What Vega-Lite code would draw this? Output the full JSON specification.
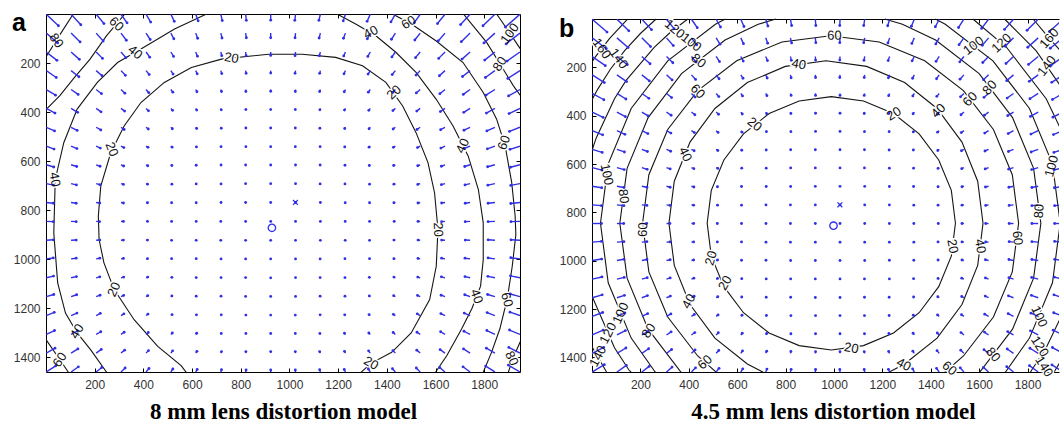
{
"$schema":"https://vega.github.io/schema/vega-lite/v6.json",
"background":"white",
"padding":{"left":12,"top":10,"right":0,"bottom":0},
"spacing":37,
"config":{"view":{"stroke":null},"axis":{"grid":false,"domainColor":"#000","tickColor":"#000","labelFont":"Liberation Sans","labelFontSize":12,"labelColor":"#333","titleFont":"Liberation Serif","titleFontSize":23,"titleFontWeight":"bold","titleColor":"#000"}},
"datasets":{
"arrA":[
{"x":1,"y":1,"x2":51,"y2":48},{"x":103,"y":1,"x2":143,"y2":44},{"x":206,"y":1,"x2":238,"y2":39},{"x":308,"y":1,"x2":333,"y2":36},{"x":411,"y":1,"x2":430,"y2":33},{"x":513,"y":1,"x2":527,"y2":30},{"x":615,"y":1,"x2":625,"y2":28},{"x":718,"y":1,"x2":724,"y2":27},{"x":820,"y":1,"x2":823,"y2":26},{"x":923,"y":1,"x2":923,"y2":25},{"x":1025,"y":1,"x2":1022,"y2":26},{"x":1127,"y":1,"x2":1121,"y2":26},{"x":1230,"y":1,"x2":1221,"y2":28},{"x":1332,"y":1,"x2":1319,"y2":30},{"x":1435,"y":1,"x2":1417,"y2":32},{"x":1537,"y":1,"x2":1513,"y2":35},{"x":1639,"y":1,"x2":1608,"y2":39},{"x":1742,"y":1,"x2":1703,"y2":43},{"x":1844,"y":1,"x2":1795,"y2":48},{"x":1947,"y":1,"x2":1887,"y2":53},
{"x":1,"y":78,"x2":48,"y2":118},{"x":103,"y":78,"x2":140,"y2":114},{"x":206,"y":78,"x2":235,"y2":110},{"x":308,"y":78,"x2":330,"y2":107},{"x":411,"y":78,"x2":428,"y2":104},{"x":513,"y":78,"x2":525,"y2":101},{"x":615,"y":78,"x2":623,"y2":99},{"x":718,"y":78,"x2":723,"y2":98},{"x":820,"y":78,"x2":823,"y2":97},{"x":923,"y":78,"x2":923,"y2":97},{"x":1025,"y":78,"x2":1023,"y2":97},{"x":1127,"y":78,"x2":1122,"y2":98},{"x":1230,"y":78,"x2":1222,"y2":99},{"x":1332,"y":78,"x2":1320,"y2":101},{"x":1435,"y":78,"x2":1419,"y2":103},{"x":1537,"y":78,"x2":1515,"y2":106},{"x":1639,"y":78,"x2":1611,"y2":110},{"x":1742,"y":78,"x2":1706,"y2":113},{"x":1844,"y":78,"x2":1799,"y2":118},{"x":1947,"y":78,"x2":1890,"y2":122},
{"x":1,"y":155,"x2":45,"y2":189},{"x":103,"y":155,"x2":137,"y2":185},{"x":206,"y":155,"x2":232,"y2":181},{"x":308,"y":155,"x2":328,"y2":178},{"x":411,"y":155,"x2":426,"y2":176},{"x":513,"y":155,"x2":524,"y2":173},{"x":615,"y":155,"x2":622,"y2":172},{"x":718,"y":155,"x2":722,"y2":170},{"x":820,"y":155,"x2":822,"y2":170},{"x":923,"y":155,"x2":923,"y2":169},{"x":1025,"y":155,"x2":1023,"y2":170},{"x":1127,"y":155,"x2":1123,"y2":170},{"x":1230,"y":155,"x2":1223,"y2":171},{"x":1332,"y":155,"x2":1322,"y2":173},{"x":1435,"y":155,"x2":1421,"y2":175},{"x":1537,"y":155,"x2":1518,"y2":178},{"x":1639,"y":155,"x2":1613,"y2":181},{"x":1742,"y":155,"x2":1709,"y2":184},{"x":1844,"y":155,"x2":1802,"y2":188},{"x":1947,"y":155,"x2":1894,"y2":192},
{"x":1,"y":231,"x2":42,"y2":259},{"x":103,"y":231,"x2":135,"y2":256},{"x":206,"y":231,"x2":230,"y2":252},{"x":308,"y":231,"x2":326,"y2":250},{"x":411,"y":231,"x2":424,"y2":247},{"x":513,"y":231,"x2":522,"y2":245},{"x":615,"y":231,"x2":621,"y2":244},{"x":718,"y":231,"x2":722,"y2":243},{"x":820,"y":231,"x2":822,"y2":242},{"x":923,"y":231,"x2":923,"y2":241},{"x":1025,"y":231,"x2":1023,"y2":242},{"x":1127,"y":231,"x2":1124,"y2":242},{"x":1230,"y":231,"x2":1224,"y2":244},{"x":1332,"y":231,"x2":1323,"y2":245},{"x":1435,"y":231,"x2":1422,"y2":247},{"x":1537,"y":231,"x2":1520,"y2":249},{"x":1639,"y":231,"x2":1616,"y2":252},{"x":1742,"y":231,"x2":1711,"y2":255},{"x":1844,"y":231,"x2":1805,"y2":259},{"x":1947,"y":231,"x2":1897,"y2":263},
{"x":1,"y":308,"x2":39,"y2":331},{"x":103,"y":308,"x2":132,"y2":328},{"x":206,"y":308,"x2":228,"y2":325},{"x":308,"y":308,"x2":324,"y2":323},{"x":411,"y":308,"x2":422,"y2":321},{"x":513,"y":308,"x2":521,"y2":319},{"x":615,"y":308,"x2":620,"y2":317},{"x":718,"y":308,"x2":721,"y2":316},{"x":820,"y":308,"x2":821,"y2":316},{"x":923,"y":308,"x2":923,"y2":315},{"x":1025,"y":308,"x2":1024,"y2":316},{"x":1127,"y":308,"x2":1124,"y2":316},{"x":1230,"y":308,"x2":1225,"y2":317},{"x":1332,"y":308,"x2":1324,"y2":319},{"x":1435,"y":308,"x2":1424,"y2":320},{"x":1537,"y":308,"x2":1521,"y2":322},{"x":1639,"y":308,"x2":1618,"y2":325},{"x":1742,"y":308,"x2":1714,"y2":328},{"x":1844,"y":308,"x2":1807,"y2":331},{"x":1947,"y":308,"x2":1900,"y2":334},
{"x":1,"y":385,"x2":37,"y2":404},{"x":103,"y":385,"x2":130,"y2":401},{"x":206,"y":385,"x2":226,"y2":399},{"x":308,"y":385,"x2":323,"y2":396},{"x":411,"y":385,"x2":421,"y2":395},{"x":513,"y":385,"x2":520,"y2":393},{"x":615,"y":385,"x2":619,"y2":392},{"x":718,"y":385,"x2":720,"y2":391},{"x":820,"y":385,"x2":821,"y2":390},{"x":923,"y":385,"x2":923,"y2":390},{"x":1025,"y":385,"x2":1024,"y2":390},{"x":1127,"y":385,"x2":1125,"y2":391},{"x":1230,"y":385,"x2":1226,"y2":392},{"x":1332,"y":385,"x2":1326,"y2":393},{"x":1435,"y":385,"x2":1425,"y2":394},{"x":1537,"y":385,"x2":1523,"y2":396},{"x":1639,"y":385,"x2":1620,"y2":398},{"x":1742,"y":385,"x2":1716,"y2":401},{"x":1844,"y":385,"x2":1809,"y2":404},{"x":1947,"y":385,"x2":1902,"y2":406},
{"x":1,"y":462,"x2":35,"y2":477},{"x":103,"y":462,"x2":128,"y2":475},{"x":206,"y":462,"x2":225,"y2":473},{"x":308,"y":462,"x2":321,"y2":471},{"x":411,"y":462,"x2":420,"y2":469},{"x":513,"y":462,"x2":519,"y2":468},{"x":615,"y":462,"x2":619,"y2":467},{"x":718,"y":462,"x2":720,"y2":466},{"x":820,"y":462,"x2":821,"y2":465},{"x":923,"y":462,"x2":923,"y2":465},{"x":1025,"y":462,"x2":1024,"y2":465},{"x":1127,"y":462,"x2":1125,"y2":466},{"x":1230,"y":462,"x2":1227,"y2":467},{"x":1332,"y":462,"x2":1327,"y2":468},{"x":1435,"y":462,"x2":1426,"y2":469},{"x":1537,"y":462,"x2":1524,"y2":471},{"x":1639,"y":462,"x2":1621,"y2":472},{"x":1742,"y":462,"x2":1717,"y2":474},{"x":1844,"y":462,"x2":1811,"y2":477},{"x":1947,"y":462,"x2":1904,"y2":479},
{"x":1,"y":539,"x2":33,"y2":551},{"x":103,"y":539,"x2":127,"y2":549},{"x":206,"y":539,"x2":223,"y2":547},{"x":308,"y":539,"x2":320,"y2":545},{"x":411,"y":539,"x2":419,"y2":544},{"x":513,"y":539,"x2":518,"y2":543},{"x":615,"y":539,"x2":618,"y2":542},{"x":718,"y":539,"x2":719,"y2":541},{"x":820,"y":539,"x2":821,"y2":541},{"x":923,"y":539,"x2":923,"y2":541},{"x":1025,"y":539,"x2":1024,"y2":541},{"x":1127,"y":539,"x2":1126,"y2":541},{"x":1230,"y":539,"x2":1227,"y2":542},{"x":1332,"y":539,"x2":1327,"y2":543},{"x":1435,"y":539,"x2":1427,"y2":544},{"x":1537,"y":539,"x2":1526,"y2":545},{"x":1639,"y":539,"x2":1622,"y2":547},{"x":1742,"y":539,"x2":1719,"y2":548},{"x":1844,"y":539,"x2":1813,"y2":550},{"x":1947,"y":539,"x2":1906,"y2":552},
{"x":1,"y":615,"x2":32,"y2":624},{"x":103,"y":615,"x2":126,"y2":622},{"x":206,"y":615,"x2":222,"y2":621},{"x":308,"y":615,"x2":319,"y2":620},{"x":411,"y":615,"x2":418,"y2":619},{"x":513,"y":615,"x2":517,"y2":618},{"x":615,"y":615,"x2":617,"y2":617},{"x":718,"y":615,"x2":719,"y2":616},{"x":820,"y":615,"x2":820,"y2":616},{"x":923,"y":615,"x2":923,"y2":616},{"x":1025,"y":615,"x2":1025,"y2":616},{"x":1127,"y":615,"x2":1126,"y2":616},{"x":1230,"y":615,"x2":1228,"y2":617},{"x":1332,"y":615,"x2":1328,"y2":618},{"x":1435,"y":615,"x2":1428,"y2":618},{"x":1537,"y":615,"x2":1527,"y2":619},{"x":1639,"y":615,"x2":1624,"y2":621},{"x":1742,"y":615,"x2":1720,"y2":622},{"x":1844,"y":615,"x2":1814,"y2":623},{"x":1947,"y":615,"x2":1908,"y2":625},
{"x":1,"y":692,"x2":31,"y2":698},{"x":103,"y":692,"x2":125,"y2":697},{"x":206,"y":692,"x2":221,"y2":696},{"x":308,"y":692,"x2":318,"y2":695},{"x":411,"y":692,"x2":417,"y2":694},{"x":513,"y":692,"x2":517,"y2":694},{"x":615,"y":692,"x2":617,"y2":693},{"x":718,"y":692,"x2":719,"y2":693},{"x":820,"y":692,"x2":820,"y2":692},{"x":923,"y":692,"x2":923,"y2":692},{"x":1025,"y":692,"x2":1025,"y2":692},{"x":1127,"y":692,"x2":1126,"y2":693},{"x":1230,"y":692,"x2":1228,"y2":693},{"x":1332,"y":692,"x2":1329,"y2":694},{"x":1435,"y":692,"x2":1429,"y2":694},{"x":1537,"y":692,"x2":1527,"y2":695},{"x":1639,"y":692,"x2":1624,"y2":696},{"x":1742,"y":692,"x2":1721,"y2":697},{"x":1844,"y":692,"x2":1815,"y2":698},{"x":1947,"y":692,"x2":1909,"y2":699},
{"x":1,"y":769,"x2":30,"y2":772},{"x":103,"y":769,"x2":124,"y2":772},{"x":206,"y":769,"x2":221,"y2":771},{"x":308,"y":769,"x2":318,"y2":771},{"x":411,"y":769,"x2":417,"y2":770},{"x":513,"y":769,"x2":516,"y2":770},{"x":615,"y":769,"x2":617,"y2":770},{"x":718,"y":769,"x2":719,"y2":769},{"x":820,"y":769,"x2":820,"y2":769},{"x":923,"y":769,"x2":923,"y2":769},{"x":1025,"y":769,"x2":1025,"y2":769},{"x":1127,"y":769,"x2":1127,"y2":769},{"x":1230,"y":769,"x2":1229,"y2":770},{"x":1332,"y":769,"x2":1329,"y2":770},{"x":1435,"y":769,"x2":1429,"y2":770},{"x":1537,"y":769,"x2":1528,"y2":771},{"x":1639,"y":769,"x2":1625,"y2":771},{"x":1742,"y":769,"x2":1722,"y2":772},{"x":1844,"y":769,"x2":1816,"y2":772},{"x":1947,"y":769,"x2":1909,"y2":773},
{"x":1,"y":846,"x2":30,"y2":847},{"x":103,"y":846,"x2":124,"y2":847},{"x":206,"y":846,"x2":220,"y2":847},{"x":308,"y":846,"x2":318,"y2":846},{"x":411,"y":846,"x2":417,"y2":846},{"x":513,"y":846,"x2":516,"y2":846},{"x":615,"y":846,"x2":617,"y2":846},{"x":718,"y":846,"x2":718,"y2":846},{"x":820,"y":846,"x2":820,"y2":846},{"x":923,"y":846,"x2":923,"y2":846},{"x":1025,"y":846,"x2":1025,"y2":846},{"x":1127,"y":846,"x2":1127,"y2":846},{"x":1230,"y":846,"x2":1229,"y2":846},{"x":1332,"y":846,"x2":1329,"y2":846},{"x":1435,"y":846,"x2":1430,"y2":846},{"x":1537,"y":846,"x2":1528,"y2":846},{"x":1639,"y":846,"x2":1625,"y2":847},{"x":1742,"y":846,"x2":1722,"y2":847},{"x":1844,"y":846,"x2":1816,"y2":847},{"x":1947,"y":846,"x2":1910,"y2":847},
{"x":1,"y":923,"x2":30,"y2":921},{"x":103,"y":923,"x2":124,"y2":922},{"x":206,"y":923,"x2":221,"y2":922},{"x":308,"y":923,"x2":318,"y2":922},{"x":411,"y":923,"x2":417,"y2":922},{"x":513,"y":923,"x2":516,"y2":923},{"x":615,"y":923,"x2":617,"y2":923},{"x":718,"y":923,"x2":718,"y2":923},{"x":820,"y":923,"x2":820,"y2":923},{"x":923,"y":923,"x2":923,"y2":923},{"x":1025,"y":923,"x2":1025,"y2":923},{"x":1127,"y":923,"x2":1127,"y2":923},{"x":1230,"y":923,"x2":1229,"y2":923},{"x":1332,"y":923,"x2":1329,"y2":923},{"x":1435,"y":923,"x2":1429,"y2":922},{"x":1537,"y":923,"x2":1528,"y2":922},{"x":1639,"y":923,"x2":1625,"y2":922},{"x":1742,"y":923,"x2":1722,"y2":922},{"x":1844,"y":923,"x2":1816,"y2":921},{"x":1947,"y":923,"x2":1910,"y2":921},
{"x":1,"y":999,"x2":30,"y2":995},{"x":103,"y":999,"x2":124,"y2":996},{"x":206,"y":999,"x2":221,"y2":996},{"x":308,"y":999,"x2":318,"y2":997},{"x":411,"y":999,"x2":417,"y2":998},{"x":513,"y":999,"x2":516,"y2":998},{"x":615,"y":999,"x2":617,"y2":998},{"x":718,"y":999,"x2":719,"y2":999},{"x":820,"y":999,"x2":820,"y2":999},{"x":923,"y":999,"x2":923,"y2":999},{"x":1025,"y":999,"x2":1025,"y2":999},{"x":1127,"y":999,"x2":1126,"y2":999},{"x":1230,"y":999,"x2":1228,"y2":998},{"x":1332,"y":999,"x2":1329,"y2":998},{"x":1435,"y":999,"x2":1429,"y2":998},{"x":1537,"y":999,"x2":1528,"y2":997},{"x":1639,"y":999,"x2":1625,"y2":996},{"x":1742,"y":999,"x2":1721,"y2":996},{"x":1844,"y":999,"x2":1816,"y2":995},{"x":1947,"y":999,"x2":1909,"y2":994},
{"x":1,"y":1076,"x2":31,"y2":1069},{"x":103,"y":1076,"x2":125,"y2":1071},{"x":206,"y":1076,"x2":221,"y2":1072},{"x":308,"y":1076,"x2":319,"y2":1073},{"x":411,"y":1076,"x2":418,"y2":1073},{"x":513,"y":1076,"x2":517,"y2":1074},{"x":615,"y":1076,"x2":617,"y2":1075},{"x":718,"y":1076,"x2":719,"y2":1075},{"x":820,"y":1076,"x2":820,"y2":1075},{"x":923,"y":1076,"x2":923,"y2":1076},{"x":1025,"y":1076,"x2":1025,"y2":1075},{"x":1127,"y":1076,"x2":1126,"y2":1075},{"x":1230,"y":1076,"x2":1228,"y2":1075},{"x":1332,"y":1076,"x2":1328,"y2":1074},{"x":1435,"y":1076,"x2":1429,"y2":1073},{"x":1537,"y":1076,"x2":1527,"y2":1073},{"x":1639,"y":1076,"x2":1624,"y2":1072},{"x":1742,"y":1076,"x2":1721,"y2":1071},{"x":1844,"y":1076,"x2":1815,"y2":1070},{"x":1947,"y":1076,"x2":1908,"y2":1068},
{"x":1,"y":1153,"x2":32,"y2":1144},{"x":103,"y":1153,"x2":126,"y2":1145},{"x":206,"y":1153,"x2":222,"y2":1147},{"x":308,"y":1153,"x2":319,"y2":1148},{"x":411,"y":1153,"x2":418,"y2":1149},{"x":513,"y":1153,"x2":517,"y2":1150},{"x":615,"y":1153,"x2":617,"y2":1151},{"x":718,"y":1153,"x2":719,"y2":1151},{"x":820,"y":1153,"x2":820,"y2":1152},{"x":923,"y":1153,"x2":923,"y2":1152},{"x":1025,"y":1153,"x2":1025,"y2":1152},{"x":1127,"y":1153,"x2":1126,"y2":1151},{"x":1230,"y":1153,"x2":1228,"y2":1151},{"x":1332,"y":1153,"x2":1328,"y2":1150},{"x":1435,"y":1153,"x2":1428,"y2":1149},{"x":1537,"y":1153,"x2":1526,"y2":1148},{"x":1639,"y":1153,"x2":1623,"y2":1147},{"x":1742,"y":1153,"x2":1720,"y2":1145},{"x":1844,"y":1153,"x2":1814,"y2":1144},{"x":1947,"y":1153,"x2":1907,"y2":1142},
{"x":1,"y":1230,"x2":34,"y2":1217},{"x":103,"y":1230,"x2":127,"y2":1220},{"x":206,"y":1230,"x2":223,"y2":1221},{"x":308,"y":1230,"x2":320,"y2":1223},{"x":411,"y":1230,"x2":419,"y2":1224},{"x":513,"y":1230,"x2":518,"y2":1226},{"x":615,"y":1230,"x2":618,"y2":1227},{"x":718,"y":1230,"x2":720,"y2":1227},{"x":820,"y":1230,"x2":821,"y2":1228},{"x":923,"y":1230,"x2":923,"y2":1228},{"x":1025,"y":1230,"x2":1024,"y2":1228},{"x":1127,"y":1230,"x2":1126,"y2":1227},{"x":1230,"y":1230,"x2":1227,"y2":1227},{"x":1332,"y":1230,"x2":1327,"y2":1226},{"x":1435,"y":1230,"x2":1427,"y2":1225},{"x":1537,"y":1230,"x2":1525,"y2":1223},{"x":1639,"y":1230,"x2":1622,"y2":1222},{"x":1742,"y":1230,"x2":1718,"y2":1220},{"x":1844,"y":1230,"x2":1812,"y2":1218},{"x":1947,"y":1230,"x2":1906,"y2":1216},
{"x":1,"y":1307,"x2":35,"y2":1291},{"x":103,"y":1307,"x2":129,"y2":1293},{"x":206,"y":1307,"x2":225,"y2":1296},{"x":308,"y":1307,"x2":321,"y2":1298},{"x":411,"y":1307,"x2":420,"y2":1299},{"x":513,"y":1307,"x2":519,"y2":1301},{"x":615,"y":1307,"x2":619,"y2":1302},{"x":718,"y":1307,"x2":720,"y2":1303},{"x":820,"y":1307,"x2":821,"y2":1303},{"x":923,"y":1307,"x2":923,"y2":1303},{"x":1025,"y":1307,"x2":1024,"y2":1303},{"x":1127,"y":1307,"x2":1125,"y2":1303},{"x":1230,"y":1307,"x2":1226,"y2":1302},{"x":1332,"y":1307,"x2":1326,"y2":1301},{"x":1435,"y":1307,"x2":1426,"y2":1299},{"x":1537,"y":1307,"x2":1524,"y2":1298},{"x":1639,"y":1307,"x2":1621,"y2":1296},{"x":1742,"y":1307,"x2":1717,"y2":1294},{"x":1844,"y":1307,"x2":1811,"y2":1291},{"x":1947,"y":1307,"x2":1904,"y2":1289},
{"x":1,"y":1383,"x2":37,"y2":1363},{"x":103,"y":1383,"x2":131,"y2":1366},{"x":206,"y":1383,"x2":227,"y2":1368},{"x":308,"y":1383,"x2":323,"y2":1371},{"x":411,"y":1383,"x2":421,"y2":1373},{"x":513,"y":1383,"x2":520,"y2":1374},{"x":615,"y":1383,"x2":620,"y2":1376},{"x":718,"y":1383,"x2":721,"y2":1377},{"x":820,"y":1383,"x2":821,"y2":1377},{"x":923,"y":1383,"x2":923,"y2":1377},{"x":1025,"y":1383,"x2":1024,"y2":1377},{"x":1127,"y":1383,"x2":1124,"y2":1377},{"x":1230,"y":1383,"x2":1226,"y2":1376},{"x":1332,"y":1383,"x2":1325,"y2":1374},{"x":1435,"y":1383,"x2":1425,"y2":1373},{"x":1537,"y":1383,"x2":1523,"y2":1371},{"x":1639,"y":1383,"x2":1619,"y2":1369},{"x":1742,"y":1383,"x2":1715,"y2":1366},{"x":1844,"y":1383,"x2":1809,"y2":1363},{"x":1947,"y":1383,"x2":1901,"y2":1360},
{"x":1,"y":1460,"x2":40,"y2":1435},{"x":103,"y":1460,"x2":133,"y2":1439},{"x":206,"y":1460,"x2":229,"y2":1442},{"x":308,"y":1460,"x2":325,"y2":1444},{"x":411,"y":1460,"x2":423,"y2":1446},{"x":513,"y":1460,"x2":521,"y2":1448},{"x":615,"y":1460,"x2":621,"y2":1450},{"x":718,"y":1460,"x2":721,"y2":1451},{"x":820,"y":1460,"x2":822,"y2":1452},{"x":923,"y":1460,"x2":923,"y2":1452},{"x":1025,"y":1460,"x2":1024,"y2":1452},{"x":1127,"y":1460,"x2":1124,"y2":1451},{"x":1230,"y":1460,"x2":1225,"y2":1450},{"x":1332,"y":1460,"x2":1324,"y2":1448},{"x":1435,"y":1460,"x2":1423,"y2":1447},{"x":1537,"y":1460,"x2":1521,"y2":1444},{"x":1639,"y":1460,"x2":1617,"y2":1442},{"x":1742,"y":1460,"x2":1713,"y2":1439},{"x":1844,"y":1460,"x2":1806,"y2":1436},{"x":1947,"y":1460,"x2":1899,"y2":1432}
],
"arrB":[
{"x":1,"y":1,"x2":62,"y2":54},{"x":103,"y":1,"x2":152,"y2":49},{"x":206,"y":1,"x2":246,"y2":44},{"x":308,"y":1,"x2":339,"y2":40},{"x":411,"y":1,"x2":435,"y2":36},{"x":513,"y":1,"x2":531,"y2":33},{"x":615,"y":1,"x2":628,"y2":31},{"x":718,"y":1,"x2":727,"y2":29},{"x":820,"y":1,"x2":825,"y2":27},{"x":923,"y":1,"x2":925,"y2":27},{"x":1025,"y":1,"x2":1024,"y2":27},{"x":1127,"y":1,"x2":1123,"y2":27},{"x":1230,"y":1,"x2":1222,"y2":28},{"x":1332,"y":1,"x2":1320,"y2":30},{"x":1435,"y":1,"x2":1419,"y2":32},{"x":1537,"y":1,"x2":1515,"y2":35},{"x":1639,"y":1,"x2":1610,"y2":39},{"x":1742,"y":1,"x2":1705,"y2":43},{"x":1844,"y":1,"x2":1798,"y2":47},{"x":1947,"y":1,"x2":1890,"y2":52},
{"x":1,"y":78,"x2":59,"y2":123},{"x":103,"y":78,"x2":149,"y2":118},{"x":206,"y":78,"x2":242,"y2":114},{"x":308,"y":78,"x2":336,"y2":110},{"x":411,"y":78,"x2":433,"y2":107},{"x":513,"y":78,"x2":529,"y2":104},{"x":615,"y":78,"x2":626,"y2":102},{"x":718,"y":78,"x2":726,"y2":100},{"x":820,"y":78,"x2":825,"y2":99},{"x":923,"y":78,"x2":925,"y2":98},{"x":1025,"y":78,"x2":1024,"y2":98},{"x":1127,"y":78,"x2":1123,"y2":98},{"x":1230,"y":78,"x2":1223,"y2":99},{"x":1332,"y":78,"x2":1322,"y2":101},{"x":1435,"y":78,"x2":1421,"y2":103},{"x":1537,"y":78,"x2":1517,"y2":106},{"x":1639,"y":78,"x2":1613,"y2":109},{"x":1742,"y":78,"x2":1708,"y2":113},{"x":1844,"y":78,"x2":1801,"y2":117},{"x":1947,"y":78,"x2":1894,"y2":121},
{"x":1,"y":155,"x2":55,"y2":193},{"x":103,"y":155,"x2":146,"y2":189},{"x":206,"y":155,"x2":240,"y2":185},{"x":308,"y":155,"x2":334,"y2":181},{"x":411,"y":155,"x2":430,"y2":178},{"x":513,"y":155,"x2":527,"y2":176},{"x":615,"y":155,"x2":625,"y2":174},{"x":718,"y":155,"x2":725,"y2":172},{"x":820,"y":155,"x2":824,"y2":171},{"x":923,"y":155,"x2":924,"y2":170},{"x":1025,"y":155,"x2":1024,"y2":170},{"x":1127,"y":155,"x2":1124,"y2":171},{"x":1230,"y":155,"x2":1224,"y2":172},{"x":1332,"y":155,"x2":1323,"y2":173},{"x":1435,"y":155,"x2":1422,"y2":175},{"x":1537,"y":155,"x2":1520,"y2":177},{"x":1639,"y":155,"x2":1615,"y2":180},{"x":1742,"y":155,"x2":1711,"y2":184},{"x":1844,"y":155,"x2":1804,"y2":188},{"x":1947,"y":155,"x2":1897,"y2":192},
{"x":1,"y":231,"x2":51,"y2":263},{"x":103,"y":231,"x2":143,"y2":259},{"x":206,"y":231,"x2":237,"y2":256},{"x":308,"y":231,"x2":331,"y2":252},{"x":411,"y":231,"x2":428,"y2":250},{"x":513,"y":231,"x2":525,"y2":247},{"x":615,"y":231,"x2":624,"y2":245},{"x":718,"y":231,"x2":724,"y2":244},{"x":820,"y":231,"x2":823,"y2":243},{"x":923,"y":231,"x2":924,"y2":242},{"x":1025,"y":231,"x2":1024,"y2":242},{"x":1127,"y":231,"x2":1125,"y2":242},{"x":1230,"y":231,"x2":1225,"y2":243},{"x":1332,"y":231,"x2":1325,"y2":245},{"x":1435,"y":231,"x2":1424,"y2":247},{"x":1537,"y":231,"x2":1521,"y2":249},{"x":1639,"y":231,"x2":1618,"y2":251},{"x":1742,"y":231,"x2":1714,"y2":255},{"x":1844,"y":231,"x2":1807,"y2":258},{"x":1947,"y":231,"x2":1900,"y2":262},
{"x":1,"y":308,"x2":49,"y2":334},{"x":103,"y":308,"x2":140,"y2":331},{"x":206,"y":308,"x2":235,"y2":328},{"x":308,"y":308,"x2":329,"y2":325},{"x":411,"y":308,"x2":426,"y2":323},{"x":513,"y":308,"x2":524,"y2":321},{"x":615,"y":308,"x2":622,"y2":318},{"x":718,"y":308,"x2":723,"y2":317},{"x":820,"y":308,"x2":823,"y2":316},{"x":923,"y":308,"x2":924,"y2":316},{"x":1025,"y":308,"x2":1025,"y2":316},{"x":1127,"y":308,"x2":1125,"y2":316},{"x":1230,"y":308,"x2":1226,"y2":317},{"x":1332,"y":308,"x2":1326,"y2":318},{"x":1435,"y":308,"x2":1425,"y2":320},{"x":1537,"y":308,"x2":1523,"y2":322},{"x":1639,"y":308,"x2":1620,"y2":324},{"x":1742,"y":308,"x2":1716,"y2":327},{"x":1844,"y":308,"x2":1810,"y2":330},{"x":1947,"y":308,"x2":1903,"y2":333},
{"x":1,"y":385,"x2":46,"y2":407},{"x":103,"y":385,"x2":138,"y2":404},{"x":206,"y":385,"x2":232,"y2":401},{"x":308,"y":385,"x2":327,"y2":398},{"x":411,"y":385,"x2":425,"y2":396},{"x":513,"y":385,"x2":523,"y2":394},{"x":615,"y":385,"x2":621,"y2":393},{"x":718,"y":385,"x2":722,"y2":392},{"x":820,"y":385,"x2":822,"y2":391},{"x":923,"y":385,"x2":924,"y2":390},{"x":1025,"y":385,"x2":1025,"y2":390},{"x":1127,"y":385,"x2":1125,"y2":391},{"x":1230,"y":385,"x2":1227,"y2":391},{"x":1332,"y":385,"x2":1327,"y2":392},{"x":1435,"y":385,"x2":1427,"y2":394},{"x":1537,"y":385,"x2":1525,"y2":396},{"x":1639,"y":385,"x2":1622,"y2":398},{"x":1742,"y":385,"x2":1718,"y2":400},{"x":1844,"y":385,"x2":1812,"y2":403},{"x":1947,"y":385,"x2":1905,"y2":406},
{"x":1,"y":462,"x2":44,"y2":479},{"x":103,"y":462,"x2":136,"y2":477},{"x":206,"y":462,"x2":231,"y2":474},{"x":308,"y":462,"x2":326,"y2":472},{"x":411,"y":462,"x2":423,"y2":470},{"x":513,"y":462,"x2":521,"y2":469},{"x":615,"y":462,"x2":620,"y2":468},{"x":718,"y":462,"x2":721,"y2":466},{"x":820,"y":462,"x2":822,"y2":466},{"x":923,"y":462,"x2":924,"y2":465},{"x":1025,"y":462,"x2":1025,"y2":465},{"x":1127,"y":462,"x2":1126,"y2":466},{"x":1230,"y":462,"x2":1228,"y2":466},{"x":1332,"y":462,"x2":1328,"y2":467},{"x":1435,"y":462,"x2":1428,"y2":468},{"x":1537,"y":462,"x2":1526,"y2":470},{"x":1639,"y":462,"x2":1623,"y2":472},{"x":1742,"y":462,"x2":1720,"y2":474},{"x":1844,"y":462,"x2":1814,"y2":476},{"x":1947,"y":462,"x2":1907,"y2":478},
{"x":1,"y":539,"x2":42,"y2":552},{"x":103,"y":539,"x2":134,"y2":550},{"x":206,"y":539,"x2":229,"y2":548},{"x":308,"y":539,"x2":325,"y2":547},{"x":411,"y":539,"x2":422,"y2":545},{"x":513,"y":539,"x2":520,"y2":544},{"x":615,"y":539,"x2":619,"y2":543},{"x":718,"y":539,"x2":720,"y2":542},{"x":820,"y":539,"x2":821,"y2":541},{"x":923,"y":539,"x2":923,"y2":541},{"x":1025,"y":539,"x2":1025,"y2":541},{"x":1127,"y":539,"x2":1126,"y2":541},{"x":1230,"y":539,"x2":1228,"y2":542},{"x":1332,"y":539,"x2":1328,"y2":542},{"x":1435,"y":539,"x2":1429,"y2":544},{"x":1537,"y":539,"x2":1527,"y2":545},{"x":1639,"y":539,"x2":1624,"y2":546},{"x":1742,"y":539,"x2":1721,"y2":548},{"x":1844,"y":539,"x2":1815,"y2":550},{"x":1947,"y":539,"x2":1909,"y2":552},
{"x":1,"y":615,"x2":41,"y2":625},{"x":103,"y":615,"x2":133,"y2":623},{"x":206,"y":615,"x2":228,"y2":622},{"x":308,"y":615,"x2":323,"y2":620},{"x":411,"y":615,"x2":421,"y2":619},{"x":513,"y":615,"x2":520,"y2":618},{"x":615,"y":615,"x2":619,"y2":617},{"x":718,"y":615,"x2":720,"y2":617},{"x":820,"y":615,"x2":821,"y2":616},{"x":923,"y":615,"x2":923,"y2":616},{"x":1025,"y":615,"x2":1025,"y2":616},{"x":1127,"y":615,"x2":1126,"y2":616},{"x":1230,"y":615,"x2":1229,"y2":617},{"x":1332,"y":615,"x2":1329,"y2":617},{"x":1435,"y":615,"x2":1430,"y2":618},{"x":1537,"y":615,"x2":1528,"y2":619},{"x":1639,"y":615,"x2":1625,"y2":620},{"x":1742,"y":615,"x2":1722,"y2":621},{"x":1844,"y":615,"x2":1817,"y2":623},{"x":1947,"y":615,"x2":1910,"y2":624},
{"x":1,"y":692,"x2":40,"y2":698},{"x":103,"y":692,"x2":132,"y2":697},{"x":206,"y":692,"x2":227,"y2":696},{"x":308,"y":692,"x2":323,"y2":696},{"x":411,"y":692,"x2":421,"y2":695},{"x":513,"y":692,"x2":519,"y2":694},{"x":615,"y":692,"x2":618,"y2":693},{"x":718,"y":692,"x2":720,"y2":693},{"x":820,"y":692,"x2":821,"y2":693},{"x":923,"y":692,"x2":923,"y2":692},{"x":1025,"y":692,"x2":1025,"y2":692},{"x":1127,"y":692,"x2":1127,"y2":692},{"x":1230,"y":692,"x2":1229,"y2":693},{"x":1332,"y":692,"x2":1329,"y2":693},{"x":1435,"y":692,"x2":1430,"y2":694},{"x":1537,"y":692,"x2":1529,"y2":694},{"x":1639,"y":692,"x2":1626,"y2":695},{"x":1742,"y":692,"x2":1723,"y2":696},{"x":1844,"y":692,"x2":1818,"y2":697},{"x":1947,"y":692,"x2":1911,"y2":698},
{"x":1,"y":769,"x2":39,"y2":772},{"x":103,"y":769,"x2":132,"y2":772},{"x":206,"y":769,"x2":227,"y2":771},{"x":308,"y":769,"x2":322,"y2":771},{"x":411,"y":769,"x2":420,"y2":770},{"x":513,"y":769,"x2":519,"y2":770},{"x":615,"y":769,"x2":618,"y2":770},{"x":718,"y":769,"x2":719,"y2":769},{"x":820,"y":769,"x2":820,"y2":769},{"x":923,"y":769,"x2":923,"y2":769},{"x":1025,"y":769,"x2":1025,"y2":769},{"x":1127,"y":769,"x2":1127,"y2":769},{"x":1230,"y":769,"x2":1229,"y2":769},{"x":1332,"y":769,"x2":1330,"y2":770},{"x":1435,"y":769,"x2":1430,"y2":770},{"x":1537,"y":769,"x2":1529,"y2":770},{"x":1639,"y":769,"x2":1627,"y2":771},{"x":1742,"y":769,"x2":1724,"y2":771},{"x":1844,"y":769,"x2":1818,"y2":772},{"x":1947,"y":769,"x2":1912,"y2":772},
{"x":1,"y":846,"x2":39,"y2":846},{"x":103,"y":846,"x2":131,"y2":846},{"x":206,"y":846,"x2":226,"y2":846},{"x":308,"y":846,"x2":322,"y2":846},{"x":411,"y":846,"x2":420,"y2":846},{"x":513,"y":846,"x2":518,"y2":846},{"x":615,"y":846,"x2":618,"y2":846},{"x":718,"y":846,"x2":719,"y2":846},{"x":820,"y":846,"x2":820,"y2":846},{"x":923,"y":846,"x2":923,"y2":846},{"x":1025,"y":846,"x2":1025,"y2":846},{"x":1127,"y":846,"x2":1127,"y2":846},{"x":1230,"y":846,"x2":1229,"y2":846},{"x":1332,"y":846,"x2":1330,"y2":846},{"x":1435,"y":846,"x2":1431,"y2":846},{"x":1537,"y":846,"x2":1529,"y2":846},{"x":1639,"y":846,"x2":1627,"y2":846},{"x":1742,"y":846,"x2":1724,"y2":846},{"x":1844,"y":846,"x2":1818,"y2":846},{"x":1947,"y":846,"x2":1912,"y2":846},
{"x":1,"y":923,"x2":39,"y2":920},{"x":103,"y":923,"x2":132,"y2":921},{"x":206,"y":923,"x2":227,"y2":921},{"x":308,"y":923,"x2":322,"y2":922},{"x":411,"y":923,"x2":420,"y2":922},{"x":513,"y":923,"x2":518,"y2":922},{"x":615,"y":923,"x2":618,"y2":922},{"x":718,"y":923,"x2":719,"y2":923},{"x":820,"y":923,"x2":820,"y2":923},{"x":923,"y":923,"x2":923,"y2":923},{"x":1025,"y":923,"x2":1025,"y2":923},{"x":1127,"y":923,"x2":1127,"y2":923},{"x":1230,"y":923,"x2":1229,"y2":923},{"x":1332,"y":923,"x2":1330,"y2":923},{"x":1435,"y":923,"x2":1430,"y2":922},{"x":1537,"y":923,"x2":1529,"y2":922},{"x":1639,"y":923,"x2":1627,"y2":922},{"x":1742,"y":923,"x2":1724,"y2":921},{"x":1844,"y":923,"x2":1818,"y2":921},{"x":1947,"y":923,"x2":1912,"y2":920},
{"x":1,"y":999,"x2":40,"y2":993},{"x":103,"y":999,"x2":132,"y2":994},{"x":206,"y":999,"x2":227,"y2":995},{"x":308,"y":999,"x2":323,"y2":996},{"x":411,"y":999,"x2":420,"y2":997},{"x":513,"y":999,"x2":519,"y2":997},{"x":615,"y":999,"x2":618,"y2":998},{"x":718,"y":999,"x2":719,"y2":998},{"x":820,"y":999,"x2":821,"y2":999},{"x":923,"y":999,"x2":923,"y2":999},{"x":1025,"y":999,"x2":1025,"y2":999},{"x":1127,"y":999,"x2":1127,"y2":999},{"x":1230,"y":999,"x2":1229,"y2":998},{"x":1332,"y":999,"x2":1330,"y2":998},{"x":1435,"y":999,"x2":1430,"y2":997},{"x":1537,"y":999,"x2":1529,"y2":997},{"x":1639,"y":999,"x2":1626,"y2":996},{"x":1742,"y":999,"x2":1723,"y2":995},{"x":1844,"y":999,"x2":1818,"y2":995},{"x":1947,"y":999,"x2":1912,"y2":994},
{"x":1,"y":1076,"x2":41,"y2":1067},{"x":103,"y":1076,"x2":133,"y2":1069},{"x":206,"y":1076,"x2":228,"y2":1070},{"x":308,"y":1076,"x2":323,"y2":1071},{"x":411,"y":1076,"x2":421,"y2":1072},{"x":513,"y":1076,"x2":519,"y2":1073},{"x":615,"y":1076,"x2":619,"y2":1074},{"x":718,"y":1076,"x2":720,"y2":1075},{"x":820,"y":1076,"x2":821,"y2":1075},{"x":923,"y":1076,"x2":923,"y2":1075},{"x":1025,"y":1076,"x2":1025,"y2":1075},{"x":1127,"y":1076,"x2":1126,"y2":1075},{"x":1230,"y":1076,"x2":1229,"y2":1075},{"x":1332,"y":1076,"x2":1329,"y2":1074},{"x":1435,"y":1076,"x2":1430,"y2":1073},{"x":1537,"y":1076,"x2":1528,"y2":1072},{"x":1639,"y":1076,"x2":1626,"y2":1071},{"x":1742,"y":1076,"x2":1723,"y2":1070},{"x":1844,"y":1076,"x2":1817,"y2":1069},{"x":1947,"y":1076,"x2":1911,"y2":1068},
{"x":1,"y":1153,"x2":42,"y2":1141},{"x":103,"y":1153,"x2":134,"y2":1143},{"x":206,"y":1153,"x2":229,"y2":1144},{"x":308,"y":1153,"x2":324,"y2":1146},{"x":411,"y":1153,"x2":422,"y2":1147},{"x":513,"y":1153,"x2":520,"y2":1149},{"x":615,"y":1153,"x2":619,"y2":1150},{"x":718,"y":1153,"x2":720,"y2":1151},{"x":820,"y":1153,"x2":821,"y2":1151},{"x":923,"y":1153,"x2":923,"y2":1152},{"x":1025,"y":1153,"x2":1025,"y2":1152},{"x":1127,"y":1153,"x2":1126,"y2":1151},{"x":1230,"y":1153,"x2":1228,"y2":1151},{"x":1332,"y":1153,"x2":1329,"y2":1150},{"x":1435,"y":1153,"x2":1429,"y2":1149},{"x":1537,"y":1153,"x2":1528,"y2":1148},{"x":1639,"y":1153,"x2":1625,"y2":1146},{"x":1742,"y":1153,"x2":1721,"y2":1145},{"x":1844,"y":1153,"x2":1816,"y2":1143},{"x":1947,"y":1153,"x2":1909,"y2":1141},
{"x":1,"y":1230,"x2":44,"y2":1214},{"x":103,"y":1230,"x2":136,"y2":1216},{"x":206,"y":1230,"x2":230,"y2":1219},{"x":308,"y":1230,"x2":326,"y2":1220},{"x":411,"y":1230,"x2":423,"y2":1222},{"x":513,"y":1230,"x2":521,"y2":1224},{"x":615,"y":1230,"x2":620,"y2":1225},{"x":718,"y":1230,"x2":721,"y2":1226},{"x":820,"y":1230,"x2":822,"y2":1227},{"x":923,"y":1230,"x2":924,"y2":1227},{"x":1025,"y":1230,"x2":1025,"y2":1227},{"x":1127,"y":1230,"x2":1126,"y2":1227},{"x":1230,"y":1230,"x2":1228,"y2":1226},{"x":1332,"y":1230,"x2":1328,"y2":1225},{"x":1435,"y":1230,"x2":1428,"y2":1224},{"x":1537,"y":1230,"x2":1527,"y2":1223},{"x":1639,"y":1230,"x2":1623,"y2":1221},{"x":1742,"y":1230,"x2":1720,"y2":1219},{"x":1844,"y":1230,"x2":1814,"y2":1217},{"x":1947,"y":1230,"x2":1908,"y2":1215},
{"x":1,"y":1307,"x2":46,"y2":1287},{"x":103,"y":1307,"x2":138,"y2":1289},{"x":206,"y":1307,"x2":232,"y2":1292},{"x":308,"y":1307,"x2":327,"y2":1294},{"x":411,"y":1307,"x2":425,"y2":1297},{"x":513,"y":1307,"x2":522,"y2":1298},{"x":615,"y":1307,"x2":621,"y2":1300},{"x":718,"y":1307,"x2":722,"y2":1301},{"x":820,"y":1307,"x2":822,"y2":1302},{"x":923,"y":1307,"x2":924,"y2":1302},{"x":1025,"y":1307,"x2":1025,"y2":1302},{"x":1127,"y":1307,"x2":1126,"y2":1302},{"x":1230,"y":1307,"x2":1227,"y2":1301},{"x":1332,"y":1307,"x2":1327,"y2":1300},{"x":1435,"y":1307,"x2":1427,"y2":1299},{"x":1537,"y":1307,"x2":1525,"y2":1297},{"x":1639,"y":1307,"x2":1622,"y2":1295},{"x":1742,"y":1307,"x2":1718,"y2":1293},{"x":1844,"y":1307,"x2":1812,"y2":1290},{"x":1947,"y":1307,"x2":1906,"y2":1287},
{"x":1,"y":1383,"x2":48,"y2":1358},{"x":103,"y":1383,"x2":140,"y2":1361},{"x":206,"y":1383,"x2":234,"y2":1364},{"x":308,"y":1383,"x2":329,"y2":1367},{"x":411,"y":1383,"x2":426,"y2":1369},{"x":513,"y":1383,"x2":524,"y2":1371},{"x":615,"y":1383,"x2":622,"y2":1373},{"x":718,"y":1383,"x2":722,"y2":1374},{"x":820,"y":1383,"x2":822,"y2":1375},{"x":923,"y":1383,"x2":924,"y2":1376},{"x":1025,"y":1383,"x2":1025,"y2":1376},{"x":1127,"y":1383,"x2":1125,"y2":1376},{"x":1230,"y":1383,"x2":1226,"y2":1375},{"x":1332,"y":1383,"x2":1326,"y2":1374},{"x":1435,"y":1383,"x2":1426,"y2":1372},{"x":1537,"y":1383,"x2":1524,"y2":1370},{"x":1639,"y":1383,"x2":1620,"y2":1368},{"x":1742,"y":1383,"x2":1716,"y2":1365},{"x":1844,"y":1383,"x2":1810,"y2":1362},{"x":1947,"y":1383,"x2":1903,"y2":1359},
{"x":1,"y":1460,"x2":51,"y2":1430},{"x":103,"y":1460,"x2":142,"y2":1433},{"x":206,"y":1460,"x2":236,"y2":1437},{"x":308,"y":1460,"x2":331,"y2":1440},{"x":411,"y":1460,"x2":428,"y2":1443},{"x":513,"y":1460,"x2":525,"y2":1445},{"x":615,"y":1460,"x2":623,"y2":1447},{"x":718,"y":1460,"x2":723,"y2":1448},{"x":820,"y":1460,"x2":823,"y2":1449},{"x":923,"y":1460,"x2":924,"y2":1450},{"x":1025,"y":1460,"x2":1024,"y2":1450},{"x":1127,"y":1460,"x2":1125,"y2":1450},{"x":1230,"y":1460,"x2":1225,"y2":1449},{"x":1332,"y":1460,"x2":1325,"y2":1447},{"x":1435,"y":1460,"x2":1424,"y2":1445},{"x":1537,"y":1460,"x2":1522,"y2":1443},{"x":1639,"y":1460,"x2":1618,"y2":1441},{"x":1742,"y":1460,"x2":1714,"y2":1438},{"x":1844,"y":1460,"x2":1808,"y2":1434},{"x":1947,"y":1460,"x2":1901,"y2":1431}
],
"conA":[
{"s":"a20","x":590,"y":1480},{"s":"a20","x":555,"y":1434},{"s":"a20","x":459,"y":1356},{"s":"a20","x":362,"y":1247},{"s":"a20","x":280,"y":1124},{"s":"a20","x":238,"y":1015},{"s":"a20","x":218,"y":920},{"s":"a20","x":215,"y":824},{"s":"a20","x":225,"y":702},{"s":"a20","x":266,"y":566},{"s":"a20","x":321,"y":457},{"s":"a20","x":390,"y":361},{"s":"a20","x":486,"y":279},{"s":"a20","x":597,"y":218},{"s":"a20","x":721,"y":184},{"s":"a20","x":914,"y":164},{"s":"a20","x":1052,"y":164},{"s":"a20","x":1190,"y":177},{"s":"a20","x":1300,"y":211},{"s":"a20","x":1396,"y":279},{"s":"a20","x":1465,"y":375},{"s":"a20","x":1520,"y":484},{"s":"a20","x":1569,"y":606},{"s":"a20","x":1596,"y":729},{"s":"a20","x":1610,"y":879},{"s":"a20","x":1603,"y":1029},{"s":"a20","x":1576,"y":1165},{"s":"a20","x":1500,"y":1301},{"s":"a20","x":1420,"y":1380},{"s":"a20","x":1335,"y":1425},{"s":"a20","x":1290,"y":1465},{"s":"a20","x":1280,"y":1490},
{"s":"a40L","x":262,"y":1490},{"s":"a40L","x":249,"y":1461},{"s":"a40L","x":183,"y":1369},{"s":"a40L","x":128,"y":1301},{"s":"a40L","x":80,"y":1220},{"s":"a40L","x":48,"y":1097},{"s":"a40L","x":32,"y":893},{"s":"a40L","x":38,"y":675},{"s":"a40L","x":73,"y":525},{"s":"a40L","x":128,"y":388},{"s":"a40L","x":211,"y":279},{"s":"a40L","x":294,"y":198},{"s":"a40L","x":390,"y":143},{"s":"a40L","x":528,"y":61},{"s":"a40L","x":666,"y":-3},{"s":"a40L","x":690,"y":-30},
{"s":"a40R","x":1170,"y":-30},{"s":"a40R","x":1190,"y":-3},{"s":"a40R","x":1272,"y":41},{"s":"a40R","x":1355,"y":89},{"s":"a40R","x":1438,"y":157},{"s":"a40R","x":1520,"y":238},{"s":"a40R","x":1603,"y":348},{"s":"a40R","x":1672,"y":457},{"s":"a40R","x":1734,"y":579},{"s":"a40R","x":1776,"y":716},{"s":"a40R","x":1796,"y":852},{"s":"a40R","x":1796,"y":1002},{"s":"a40R","x":1785,"y":1110},{"s":"a40R","x":1750,"y":1200},{"s":"a40R","x":1707,"y":1285},{"s":"a40R","x":1646,"y":1394},{"s":"a40R","x":1600,"y":1461},{"s":"a40R","x":1585,"y":1490},
{"s":"a60TL","x":345,"y":-20},{"s":"a60TL","x":324,"y":0},{"s":"a60TL","x":249,"y":88},{"s":"a60TL","x":181,"y":184},{"s":"a60TL","x":112,"y":265},{"s":"a60TL","x":57,"y":333},{"s":"a60TL","x":3,"y":387},{"s":"a60TL","x":-20,"y":410},
{"s":"a60BL","x":-20,"y":1300},{"s":"a60BL","x":3,"y":1332},{"s":"a60BL","x":57,"y":1410},{"s":"a60BL","x":92,"y":1461},{"s":"a60BL","x":110,"y":1490},
{"s":"a60R","x":1410,"y":-20},{"s":"a60R","x":1424,"y":0},{"s":"a60R","x":1507,"y":45},{"s":"a60R","x":1603,"y":110},{"s":"a60R","x":1713,"y":198},{"s":"a60R","x":1796,"y":320},{"s":"a60R","x":1851,"y":429},{"s":"a60R","x":1886,"y":538},{"s":"a60R","x":1913,"y":688},{"s":"a60R","x":1927,"y":824},{"s":"a60R","x":1930,"y":900},{"s":"a60R","x":1915,"y":1030},{"s":"a60R","x":1895,"y":1160},{"s":"a60R","x":1864,"y":1285},{"s":"a60R","x":1830,"y":1380},{"s":"a60R","x":1796,"y":1461},{"s":"a60R","x":1780,"y":1490},
{"s":"a80TL","x":125,"y":-20},{"s":"a80TL","x":112,"y":0},{"s":"a80TL","x":60,"y":80},{"s":"a80TL","x":3,"y":170},{"s":"a80TL","x":-20,"y":200},
{"s":"a80R","x":1700,"y":-20},{"s":"a80R","x":1713,"y":-2},{"s":"a80R","x":1810,"y":116},{"s":"a80R","x":1865,"y":204},{"s":"a80R","x":1920,"y":293},{"s":"a80R","x":1947,"y":330},{"s":"a80R","x":1970,"y":360},
{"s":"a80BR","x":1970,"y":1300},{"s":"a80BR","x":1947,"y":1339},{"s":"a80BR","x":1920,"y":1400},{"s":"a80BR","x":1899,"y":1461},{"s":"a80BR","x":1890,"y":1490},
{"s":"a100","x":1840,"y":-20},{"s":"a100","x":1851,"y":0},{"s":"a100","x":1893,"y":60},{"s":"a100","x":1947,"y":140},{"s":"a100","x":1970,"y":175}
],
"conB":[
{"s":"b20","x":1502,"y":845},{"s":"b20","x":1485,"y":981},{"s":"b20","x":1433,"y":1107},{"s":"b20","x":1352,"y":1215},{"s":"b20","x":1246,"y":1299},{"s":"b20","x":1122,"y":1351},{"s":"b20","x":989,"y":1369},{"s":"b20","x":856,"y":1351},{"s":"b20","x":732,"y":1299},{"s":"b20","x":626,"y":1215},{"s":"b20","x":545,"y":1107},{"s":"b20","x":493,"y":981},{"s":"b20","x":476,"y":845},{"s":"b20","x":493,"y":709},{"s":"b20","x":545,"y":583},{"s":"b20","x":626,"y":475},{"s":"b20","x":732,"y":391},{"s":"b20","x":856,"y":339},{"s":"b20","x":989,"y":321},{"s":"b20","x":1122,"y":339},{"s":"b20","x":1246,"y":391},{"s":"b20","x":1352,"y":475},{"s":"b20","x":1433,"y":583},{"s":"b20","x":1485,"y":709},{"s":"b20","x":1502,"y":845},
{"s":"b40","x":690,"y":1475},{"s":"b40","x":705,"y":1460},{"s":"b40","x":642,"y":1427},{"s":"b40","x":508,"y":1320},{"s":"b40","x":405,"y":1181},{"s":"b40","x":340,"y":1019},{"s":"b40","x":318,"y":845},{"s":"b40","x":340,"y":671},{"s":"b40","x":405,"y":509},{"s":"b40","x":508,"y":370},{"s":"b40","x":642,"y":263},{"s":"b40","x":799,"y":196},{"s":"b40","x":967,"y":173},{"s":"b40","x":1135,"y":196},{"s":"b40","x":1292,"y":263},{"s":"b40","x":1426,"y":370},{"s":"b40","x":1529,"y":509},{"s":"b40","x":1594,"y":671},{"s":"b40","x":1616,"y":845},{"s":"b40","x":1594,"y":1019},{"s":"b40","x":1529,"y":1181},{"s":"b40","x":1426,"y":1320},{"s":"b40","x":1292,"y":1427},{"s":"b40","x":1229,"y":1460},{"s":"b40","x":1215,"y":1475},
{"s":"b60","x":500,"y":1480},{"s":"b60","x":518,"y":1465},{"s":"b60","x":437,"y":1394},{"s":"b60","x":313,"y":1233},{"s":"b60","x":235,"y":1046},{"s":"b60","x":209,"y":845},{"s":"b60","x":235,"y":644},{"s":"b60","x":313,"y":457},{"s":"b60","x":437,"y":296},{"s":"b60","x":598,"y":173},{"s":"b60","x":785,"y":95},{"s":"b60","x":986,"y":69},{"s":"b60","x":1187,"y":95},{"s":"b60","x":1375,"y":173},{"s":"b60","x":1535,"y":296},{"s":"b60","x":1659,"y":457},{"s":"b60","x":1737,"y":644},{"s":"b60","x":1763,"y":845},{"s":"b60","x":1737,"y":1046},{"s":"b60","x":1659,"y":1233},{"s":"b60","x":1535,"y":1394},{"s":"b60","x":1454,"y":1465},{"s":"b60","x":1440,"y":1480},
{"s":"b80L","x":760,"y":0},{"s":"b80L","x":687,"y":22},{"s":"b80L","x":550,"y":87},{"s":"b80L","x":370,"y":226},{"s":"b80L","x":232,"y":408},{"s":"b80L","x":145,"y":618},{"s":"b80L","x":115,"y":845},{"s":"b80L","x":145,"y":1072},{"s":"b80L","x":232,"y":1283},{"s":"b80L","x":370,"y":1464},{"s":"b80L","x":400,"y":1490},
{"s":"b80R","x":1210,"y":0},{"s":"b80R","x":1283,"y":22},{"s":"b80R","x":1420,"y":87},{"s":"b80R","x":1600,"y":226},{"s":"b80R","x":1738,"y":408},{"s":"b80R","x":1825,"y":618},{"s":"b80R","x":1855,"y":845},{"s":"b80R","x":1825,"y":1072},{"s":"b80R","x":1738,"y":1283},{"s":"b80R","x":1600,"y":1464},{"s":"b80R","x":1570,"y":1490},
{"s":"b100L","x":551,"y":0},{"s":"b100L","x":510,"y":22},{"s":"b100L","x":313,"y":173},{"s":"b100L","x":162,"y":370},{"s":"b100L","x":67,"y":599},{"s":"b100L","x":35,"y":845},{"s":"b100L","x":67,"y":1091},{"s":"b100L","x":162,"y":1320},{"s":"b100L","x":261,"y":1460},{"s":"b100L","x":280,"y":1485},
{"s":"b100R","x":1419,"y":0},{"s":"b100R","x":1460,"y":22},{"s":"b100R","x":1657,"y":173},{"s":"b100R","x":1808,"y":370},{"s":"b100R","x":1903,"y":599},{"s":"b100R","x":1935,"y":845},{"s":"b100R","x":1903,"y":1091},{"s":"b100R","x":1808,"y":1320},{"s":"b100R","x":1709,"y":1460},{"s":"b100R","x":1690,"y":1485},
{"s":"b120TL","x":-20,"y":570},{"s":"b120TL","x":0,"y":544},{"s":"b120TL","x":17,"y":493},{"s":"b120TL","x":93,"y":330},{"s":"b120TL","x":141,"y":254},{"s":"b120TL","x":257,"y":117},{"s":"b120TL","x":323,"y":56},{"s":"b120TL","x":396,"y":0},
{"s":"b120BL","x":-20,"y":1175},{"s":"b120BL","x":0,"y":1146},{"s":"b120BL","x":93,"y":1360},{"s":"b120BL","x":152,"y":1451},{"s":"b120BL","x":180,"y":1480},
{"s":"b120TR","x":1574,"y":0},{"s":"b120TR","x":1713,"y":117},{"s":"b120TR","x":1877,"y":330},{"s":"b120TR","x":1947,"y":476},
{"s":"b120BR","x":1947,"y":1214},{"s":"b120BR","x":1877,"y":1360},{"s":"b120BR","x":1818,"y":1451},{"s":"b120BR","x":1800,"y":1480},
{"s":"b140TL","x":-20,"y":360},{"s":"b140TL","x":0,"y":334},{"s":"b140TL","x":24,"y":290},{"s":"b140TL","x":76,"y":208},{"s":"b140TL","x":135,"y":131},{"s":"b140TL","x":200,"y":60},{"s":"b140TL","x":265,"y":0},
{"s":"b140BL","x":-20,"y":1330},{"s":"b140BL","x":0,"y":1356},{"s":"b140BL","x":60,"y":1460},{"s":"b140BL","x":80,"y":1490},
{"s":"b140TR","x":1705,"y":0},{"s":"b140TR","x":1835,"y":131},{"s":"b140TR","x":1947,"y":292},
{"s":"b140BR","x":1947,"y":1398},{"s":"b140BR","x":1910,"y":1460},{"s":"b140BR","x":1895,"y":1480},
{"s":"b160TL","x":-20,"y":205},{"s":"b160TL","x":0,"y":178},{"s":"b160TL","x":10,"y":162},{"s":"b160TL","x":73,"y":80},{"s":"b160TL","x":144,"y":4},{"s":"b160TL","x":147,"y":0},
{"s":"b160TR","x":1823,"y":0},{"s":"b160TR","x":1890,"y":80},{"s":"b160TR","x":1947,"y":144}
],
"labA":[
{"t":"80","x":42,"y":109,"a":55},{"t":"60","x":289,"y":41,"a":44},{"t":"40","x":366,"y":157,"a":39},{"t":"20","x":762,"y":180,"a":10},{"t":"20","x":270,"y":552,"a":68},{"t":"40","x":36,"y":675,"a":80},{"t":"20","x":280,"y":1124,"a":-65},{"t":"40","x":128,"y":1295,"a":-58},{"t":"60","x":57,"y":1410,"a":-56},{"t":"20","x":1335,"y":1425,"a":30},{"t":"20","x":1610,"y":879,"a":88},{"t":"20","x":1430,"y":320,"a":-43},{"t":"40","x":1334,"y":75,"a":-28},{"t":"40","x":1712,"y":538,"a":-65},{"t":"40","x":1768,"y":1152,"a":70},{"t":"60","x":1490,"y":35,"a":-32},{"t":"60","x":1882,"y":525,"a":-71},{"t":"60","x":1893,"y":1165,"a":75},{"t":"80","x":1865,"y":204,"a":-56},{"t":"100","x":1905,"y":80,"a":-54},{"t":"80","x":1912,"y":1405,"a":64}
],
"labB":[
{"t":"60","x":1002,"y":69,"a":-1},{"t":"40","x":855,"y":188,"a":11},{"t":"20","x":672,"y":436,"a":39},{"t":"20","x":1248,"y":392,"a":-31},{"t":"20","x":1490,"y":940,"a":79},{"t":"20","x":1072,"y":1362,"a":9},{"t":"20","x":492,"y":989,"a":-74},{"t":"20","x":551,"y":1092,"a":-61},{"t":"40","x":385,"y":560,"a":65},{"t":"40","x":400,"y":1168,"a":-60},{"t":"40","x":1432,"y":380,"a":-45},{"t":"40","x":1604,"y":940,"a":81},{"t":"40","x":1288,"y":1430,"a":27},{"t":"60","x":437,"y":300,"a":46},{"t":"60","x":211,"y":871,"a":-88},{"t":"60","x":467,"y":1420,"a":-43},{"t":"60","x":1563,"y":332,"a":-48},{"t":"60","x":1758,"y":906,"a":85},{"t":"60","x":1477,"y":1445,"a":40},{"t":"80","x":440,"y":173,"a":40},{"t":"80","x":130,"y":733,"a":83},{"t":"80","x":235,"y":1290,"a":-57},{"t":"80","x":1644,"y":284,"a":-48},{"t":"80","x":1848,"y":795,"a":-87},{"t":"80","x":1657,"y":1389,"a":50},{"t":"100","x":61,"y":643,"a":78},{"t":"100","x":410,"y":97,"a":38},{"t":"120","x":341,"y":42,"a":40},{"t":"100","x":1577,"y":111,"a":-37},{"t":"100","x":1900,"y":609,"a":-75},{"t":"100","x":1848,"y":1231,"a":66},{"t":"100","x":119,"y":1217,"a":-66},{"t":"120","x":67,"y":1300,"a":-63},{"t":"140","x":25,"y":1395,"a":-62},{"t":"120","x":1693,"y":100,"a":-43},{"t":"120","x":1850,"y":1355,"a":58},{"t":"140","x":1880,"y":194,"a":-52},{"t":"140","x":1868,"y":1438,"a":58},{"t":"160","x":1890,"y":80,"a":-49},{"t":"160","x":40,"y":123,"a":54},{"t":"140","x":110,"y":164,"a":53}
]
},
"hconcat":[
{
"width":474,"height":358,
"title":{"text":"a","anchor":"start","frame":"group","orient":"top","font":"Liberation Sans","fontSize":25,"fontWeight":"bold","color":"#000","baseline":"alphabetic","offset":-27,"dx":-34,"dy":15},
"resolve":{"axis":{"x":"independent","y":"independent"}},
"layer":[
{"data":{"name":"conA"},"mark":{"type":"line","color":"#151515","strokeWidth":1.1,"clip":true},
"encoding":{"x":{"field":"x","type":"quantitative","scale":{"domain":[0,1947],"nice":false,"zero":false},"axis":{"orient":"bottom","values":[200,400,600,800,1000,1200,1400,1600,1800],"format":"d","ticks":false,"labelPadding":7,"title":"8 mm lens distortion model","titlePadding":10,"labelFlush":false}},
"y":{"field":"y","type":"quantitative","scale":{"domain":[0,1460.2],"nice":false,"zero":false,"reverse":true},"axis":{"orient":"left","values":[200,400,600,800,1000,1200,1400],"format":"d","ticks":false,"labelPadding":6,"title":null,"labelFlush":false}},
"detail":{"field":"s"},"order":{"value":null}}},
{"data":{"name":"labA"},"mark":{"type":"text","font":"Liberation Sans","fontSize":13,"fill":"white","stroke":"white","strokeWidth":3,"align":"center","baseline":"middle"},
"encoding":{"x":{"field":"x","type":"quantitative","scale":{"domain":[0,1947],"nice":false,"zero":false},"axis":{"orient":"top","values":[200,400,600,800,1000,1200,1400,1600,1800],"labels":false,"tickSize":-4,"title":null}},
"y":{"field":"y","type":"quantitative","scale":{"domain":[0,1460.2],"nice":false,"zero":false,"reverse":true},"axis":{"orient":"right","values":[200,400,600,800,1000,1200,1400],"labels":false,"tickSize":-4,"title":null}},
"text":{"field":"t"},"angle":{"field":"a","type":"quantitative","scale":null}}},
{"data":{"name":"arrA"},"mark":{"type":"rule","color":"#2f2fe6","strokeWidth":1.4,"clip":true},
"encoding":{"x":{"field":"x","type":"quantitative","scale":{"domain":[0,1947],"nice":false,"zero":false},"axis":{"orient":"bottom","values":[200,400,600,800,1000,1200,1400,1600,1800],"labels":false,"domain":false,"tickSize":-4,"title":null}},
"y":{"field":"y","type":"quantitative","scale":{"domain":[0,1460.2],"nice":false,"zero":false,"reverse":true},"axis":{"orient":"left","values":[200,400,600,800,1000,1200,1400],"labels":false,"domain":false,"tickSize":-4,"title":null}},
"x2":{"field":"x2"},"y2":{"field":"y2"}}},
{"data":{"name":"arrA"},"mark":{"type":"point","shape":"circle","filled":true,"size":8,"color":"#2f2fe6","opacity":1,"clip":true},
"encoding":{"x":{"field":"x2","type":"quantitative","scale":{"domain":[0,1947],"nice":false,"zero":false},"axis":null},
"y":{"field":"y2","type":"quantitative","scale":{"domain":[0,1460.2],"nice":false,"zero":false,"reverse":true},"axis":null}}},
{"data":{"name":"labA"},"mark":{"type":"text","font":"Liberation Sans","fontSize":13,"color":"#111","align":"center","baseline":"middle"},
"encoding":{"x":{"field":"x","type":"quantitative","scale":{"domain":[0,1947],"nice":false,"zero":false},"axis":null},
"y":{"field":"y","type":"quantitative","scale":{"domain":[0,1460.2],"nice":false,"zero":false,"reverse":true},"axis":null},
"text":{"field":"t"},"angle":{"field":"a","type":"quantitative","scale":null}}},
{"data":{"values":[{"x":928,"y":872}]},"mark":{"type":"point","shape":"circle","filled":false,"size":55,"color":"#2f2fe6","strokeWidth":1.3,"opacity":1},
"encoding":{"x":{"field":"x","type":"quantitative","scale":{"domain":[0,1947],"nice":false,"zero":false},"axis":null},
"y":{"field":"y","type":"quantitative","scale":{"domain":[0,1460.2],"nice":false,"zero":false,"reverse":true},"axis":null}}},
{"data":{"values":[{"x":1024.5,"y":768.5}]},"mark":{"type":"point","shape":"M-1,-1L1,1M-1,1L1,-1","filled":false,"size":24,"color":"#2f2fe6","strokeWidth":1.2,"opacity":1},
"encoding":{"x":{"field":"x","type":"quantitative","scale":{"domain":[0,1947],"nice":false,"zero":false},"axis":null},
"y":{"field":"y","type":"quantitative","scale":{"domain":[0,1460.2],"nice":false,"zero":false,"reverse":true},"axis":null}}}
]
},
{
"width":467,"height":358,
"title":{"text":"b","anchor":"start","frame":"group","orient":"top","font":"Liberation Sans","fontSize":25,"fontWeight":"bold","color":"#000","baseline":"alphabetic","offset":-27,"dx":-33,"dy":21},
"resolve":{"axis":{"x":"independent","y":"independent"}},
"layer":[
{"data":{"name":"conB"},"mark":{"type":"line","color":"#151515","strokeWidth":1.1,"clip":true},
"encoding":{"x":{"field":"x","type":"quantitative","scale":{"domain":[0,1930],"nice":false,"zero":false},"axis":{"orient":"bottom","values":[200,400,600,800,1000,1200,1400,1600,1800],"format":"d","ticks":false,"labelPadding":7,"title":"4.5 mm lens distortion model","titlePadding":10,"titleX":241,"labelFlush":false}},
"y":{"field":"y","type":"quantitative","scale":{"domain":[0,1460.2],"nice":false,"zero":false,"range":[5,358]},"axis":{"orient":"left","values":[200,400,600,800,1000,1200,1400],"format":"d","ticks":false,"labelPadding":6,"title":null,"labelFlush":false}},
"detail":{"field":"s"},"order":{"value":null}}},
{"data":{"name":"labB"},"mark":{"type":"text","font":"Liberation Sans","fontSize":13,"fill":"white","stroke":"white","strokeWidth":3,"align":"center","baseline":"middle"},
"encoding":{"x":{"field":"x","type":"quantitative","scale":{"domain":[0,1930],"nice":false,"zero":false},"axis":{"orient":"top","offset":-5,"values":[200,400,600,800,1000,1200,1400,1600,1800],"labels":false,"tickSize":-4,"title":null}},
"y":{"field":"y","type":"quantitative","scale":{"domain":[0,1460.2],"nice":false,"zero":false,"range":[5,358]},"axis":null},
"text":{"field":"t"},"angle":{"field":"a","type":"quantitative","scale":null}}},
{"data":{"name":"arrB"},"mark":{"type":"rule","color":"#2f2fe6","strokeWidth":1.4,"clip":true},
"encoding":{"x":{"field":"x","type":"quantitative","scale":{"domain":[0,1930],"nice":false,"zero":false},"axis":{"orient":"bottom","values":[200,400,600,800,1000,1200,1400,1600,1800],"labels":false,"domain":false,"tickSize":-4,"title":null}},
"y":{"field":"y","type":"quantitative","scale":{"domain":[0,1460.2],"nice":false,"zero":false,"range":[5,358]},"axis":{"orient":"left","values":[200,400,600,800,1000,1200,1400],"labels":false,"domain":false,"tickSize":-4,"title":null}},
"x2":{"field":"x2"},"y2":{"field":"y2"}}},
{"data":{"name":"arrB"},"mark":{"type":"point","shape":"circle","filled":true,"size":8,"color":"#2f2fe6","opacity":1,"clip":true},
"encoding":{"x":{"field":"x2","type":"quantitative","scale":{"domain":[0,1930],"nice":false,"zero":false},"axis":null},
"y":{"field":"y2","type":"quantitative","scale":{"domain":[0,1460.2],"nice":false,"zero":false,"range":[5,358]},"axis":null}}},
{"data":{"name":"labB"},"mark":{"type":"text","font":"Liberation Sans","fontSize":13,"color":"#111","align":"center","baseline":"middle"},
"encoding":{"x":{"field":"x","type":"quantitative","scale":{"domain":[0,1930],"nice":false,"zero":false},"axis":null},
"y":{"field":"y","type":"quantitative","scale":{"domain":[0,1460.2],"nice":false,"zero":false,"range":[5,358]},"axis":null},
"text":{"field":"t"},"angle":{"field":"a","type":"quantitative","scale":null}}},
{"data":{"values":[{"x":998,"y":855}]},"mark":{"type":"point","shape":"circle","filled":false,"size":55,"color":"#2f2fe6","strokeWidth":1.3,"opacity":1},
"encoding":{"x":{"field":"x","type":"quantitative","scale":{"domain":[0,1930],"nice":false,"zero":false},"axis":null},
"y":{"field":"y","type":"quantitative","scale":{"domain":[0,1460.2],"nice":false,"zero":false,"range":[5,358]},"axis":null}}},
{"data":{"values":[{"x":1024.5,"y":768.5}]},"mark":{"type":"point","shape":"M-1,-1L1,1M-1,1L1,-1","filled":false,"size":24,"color":"#2f2fe6","strokeWidth":1.2,"opacity":1},
"encoding":{"x":{"field":"x","type":"quantitative","scale":{"domain":[0,1930],"nice":false,"zero":false},"axis":null},
"y":{"field":"y","type":"quantitative","scale":{"domain":[0,1460.2],"nice":false,"zero":false,"range":[5,358]},"axis":null}}}
]
}
]
}
